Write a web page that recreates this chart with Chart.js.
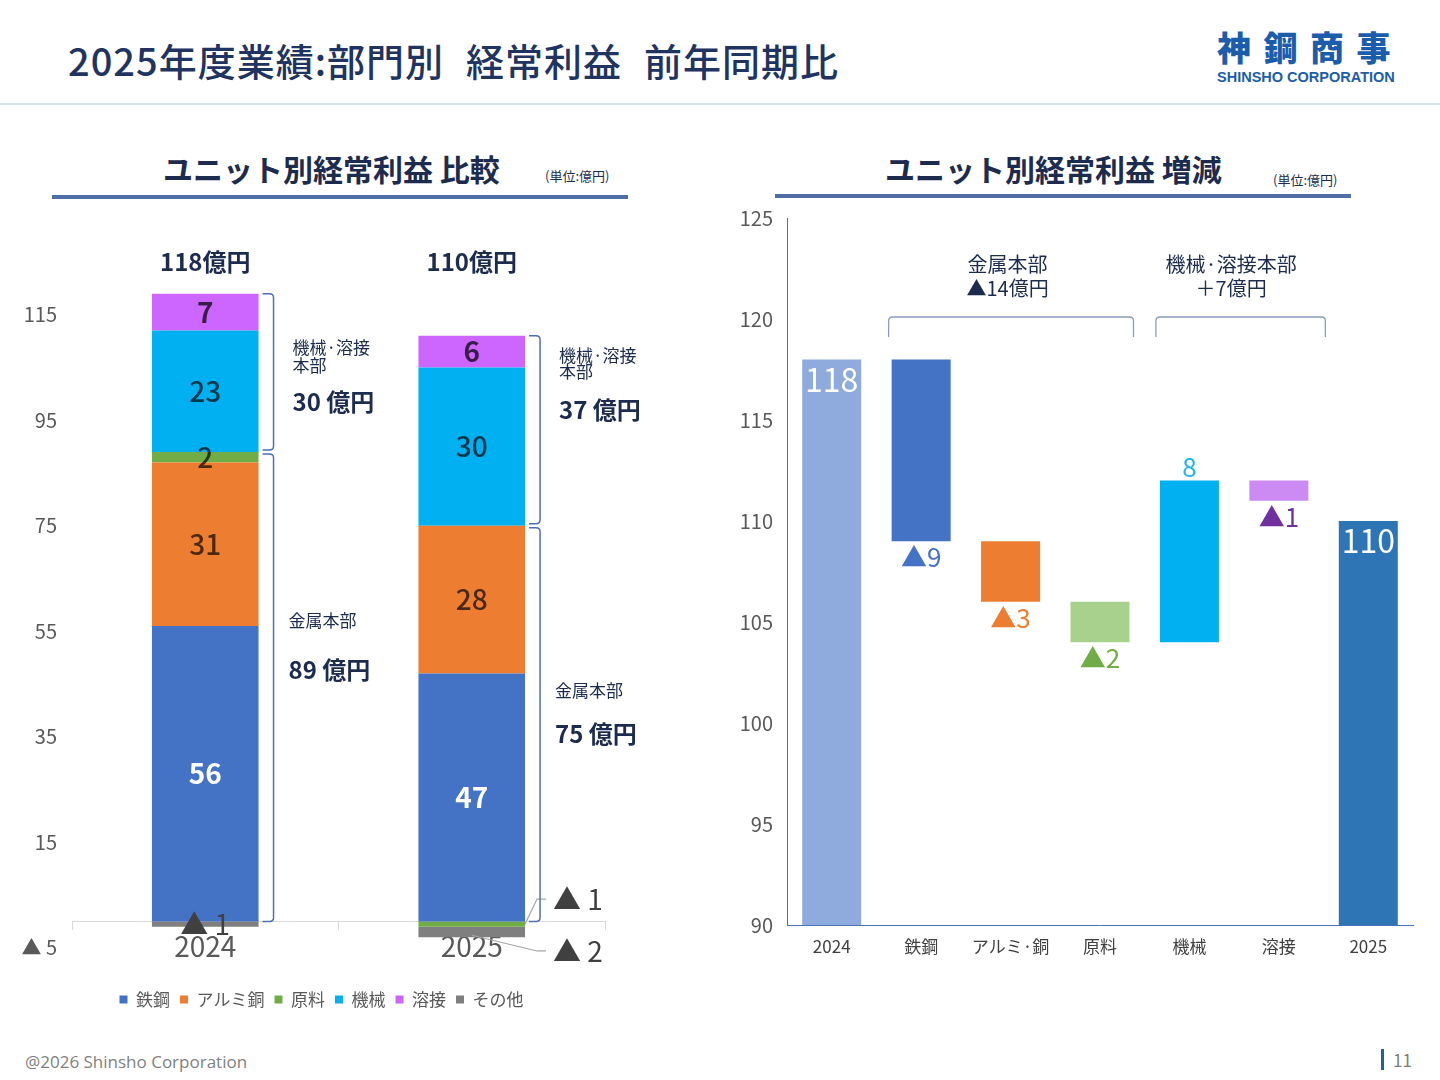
<!DOCTYPE html>
<html lang="ja">
<head>
<meta charset="utf-8">
<script src="https://cdn.jsdelivr.net/npm/chart.js@4.4.1/dist/chart.umd.min.js"></script>
<style>
  body { margin:0; width:1440px; height:1080px; background:#fff; position:relative; overflow:hidden;
         font-family:"Noto Sans CJK JP","Noto Sans",sans-serif; }
  .abs { position:absolute; white-space:nowrap; }
  #pageTitle { left:68px; top:38px; font-size:38px; line-height:44px; color:#1f3460; font-weight:500; letter-spacing:1px; }
  #pageTitle .gap { display:inline-block; width:22px; }
  #logo { left:1217px; top:27px; font-size:34px; line-height:40px; color:#1c5dab; font-weight:900; letter-spacing:12.5px; }
  #logoSub { left:1217px; top:69px; font-size:14.5px; line-height:16px; color:#1c5dab; font-weight:700;
             font-family:"Liberation Sans",Arial,sans-serif; }
  #headLine { left:0; top:103px; width:1440px; height:2px; background:#d3e2e5; }
  .secTitle { top:149px; font-size:30px; line-height:38px; color:#1c2b4e; font-weight:700; }
  .unit { font-size:13px; line-height:16px; color:#1c2b4e; }
  .secLine { height:4px; background:#4f6fa6; }
  #footer { left:25px; top:1051px; font-size:17px; line-height:22px; color:#7f7f7f; font-family:"Open Sans","Noto Sans",sans-serif; }
  #pageBar { left:1381px; top:1049px; width:3px; height:21px; background:#1f5fa8; }
  #pageNo { left:1393px; top:1049px; font-size:17px; line-height:22px; color:#7f7f7f; }
  canvas { position:absolute; }
</style>
</head>
<body>
<div class="abs" id="pageTitle">2025年度業績:部門別<span class="gap"></span>経常利益<span class="gap"></span>前年同期比</div>
<div class="abs" id="logo">神鋼商事</div>
<div class="abs" id="logoSub">SHINSHO CORPORATION</div>
<div class="abs" id="headLine"></div>

<div class="abs secTitle" style="left:163px;">ユニット別経常利益 比較</div>
<div class="abs unit" style="left:545px;top:168px;">(単位:億円)</div>
<div class="abs secLine" style="left:52px;top:195px;width:576px;"></div>

<div class="abs secTitle" style="left:885px;">ユニット別経常利益 増減</div>
<div class="abs unit" style="left:1273px;top:172px;">(単位:億円)</div>
<div class="abs secLine" style="left:775px;top:194px;width:576px;"></div>

<canvas id="compareChart" width="710" height="830" style="left:0;top:200px;"></canvas>
<canvas id="bridgeChart" width="720" height="778" style="left:720px;top:192px;"></canvas>

<div class="abs" id="footer">@2026 Shinsho Corporation</div>
<div class="abs" id="pageBar"></div>
<div class="abs" id="pageNo">11</div>

<script>
Chart.defaults.font.family = '"Noto Sans CJK JP", "Noto Sans", sans-serif';
Chart.defaults.color = "#595959";

// ---- left chart data (億円)
const years = ["2024", "2025"];
const units = ["鉄鋼", "アルミ銅", "原料", "機械", "溶接", "その他"];
const steel = [56, 47];
const aluCopper = [31, 28];
const rawMat = [2, -1];
const machinery = [23, 30];
const welding = [7, 6];
const others = [-1, -2];
const yearTotals = [118, 110];
const metalDiv = [89, 75];        // 金属本部
const machWeldDiv = [30, 37];     // 機械・溶接本部
const leftTicks = [-5, 15, 35, 55, 75, 95, 115];

// ---- right chart data
const bridgeLabels = ["2024", "鉄鋼", "アルミ·銅", "原料", "機械", "溶接", "2025"];
const startValue = 118;
const changes = [-9, -3, -2, 8, -1];
const endValue = 110;
const rightMin = 90, rightMax = 125;

const unitColors = ["#4472C4", "#ED7D31", "#70AD47", "#00B0F0", "#CC66FF", "#7F7F7F"];
const bridgeColors = ["#8FAADC", "#4472C4", "#ED7D31", "#A9D18E", "#00B0F0", "#CC8BF2", "#2E75B6"];
const bridgeTextColors = ["#fff", "#4472C4", "#ED7D31", "#70AD47", "#1FB5E8", "#7030A0", "#fff"];

const navy = "#1c2b4e";
const unitValues = [steel, aluCopper, rawMat, machinery, welding, others];

const drawBracket = (ctx, x0, x1, yTop, yBot, r) => {
  ctx.beginPath();
  ctx.moveTo(x0, yTop);
  ctx.lineTo(x1 - r, yTop);
  ctx.quadraticCurveTo(x1, yTop, x1, yTop + r);
  ctx.lineTo(x1, yBot - r);
  ctx.quadraticCurveTo(x1, yBot, x1 - r, yBot);
  ctx.lineTo(x0, yBot);
  ctx.stroke();
};

// labels, totals and brackets of the stacked chart
const stackLabels = {
  id: "stackLabels",
  afterDatasetsDraw(chart) {
    const ctx = chart.ctx;
    const yS = chart.scales.y;
    ctx.save();
    ctx.textAlign = "center";
    ctx.textBaseline = "middle";
    chart.data.datasets.forEach((ds, di) => {
      chart.getDatasetMeta(di).data.forEach((bar, i) => {
        const v = ds.data[i];
        const cy = (bar.y + bar.base) / 2;
        const right = bar.x + bar.width / 2;
        if (v < 0) {
          ctx.font = "400 28px 'Noto Sans CJK JP'";
          ctx.fillStyle = "#404040";
          if (i === 0) {
            ctx.fillText("▲ " + (-v), bar.x, cy);
          } else {
            const ly = di === 2 ? cy - 25 : cy + 19;
            ctx.strokeStyle = "#a6a6a6";
            ctx.lineWidth = 1.2;
            ctx.beginPath();
            if (di === 2) ctx.moveTo(right, cy);
            else ctx.moveTo(bar.x, Math.max(bar.y, bar.base) - 2);
            ctx.lineTo(right + 12, ly);
            ctx.lineTo(right + 21, ly);
            ctx.stroke();
            ctx.textAlign = "left";
            ctx.fillText("▲ " + (-v), right + 28, ly);
            ctx.textAlign = "center";
          }
          return;
        }
        if (di === 0) { ctx.font = "700 28px 'Noto Sans CJK JP'"; ctx.fillStyle = "#fff"; }
        else if (di === 4) { ctx.font = "700 28px 'Noto Sans CJK JP'"; ctx.fillStyle = "rgba(0,0,0,0.72)"; }
        else { ctx.font = "500 28px 'Noto Sans CJK JP'"; ctx.fillStyle = "rgba(0,0,0,0.68)"; }
        ctx.fillText(String(v), bar.x, cy);
      });
    });

    const meta0 = chart.getDatasetMeta(0);
    const textSpots = [
      { mw: [108.8, 105.4, 98.5], mt: [57.0, 47.7] },
      { mw: [107.2, 104.2, 97.0], mt: [43.7, 35.6] }
    ];
    meta0.data.forEach((bar, i) => {
      const right = bar.x + bar.width / 2;
      // totals above
      ctx.textAlign = "center";
      ctx.font = "700 24px 'Noto Sans CJK JP'";
      ctx.fillStyle = navy;
      ctx.fillText(yearTotals[i] + "億円", bar.x, chart.chartArea.top);

      // brackets
      const metalTop = steel[i] + aluCopper[i] + Math.max(rawMat[i], 0);
      const allTop = metalTop + machinery[i] + welding[i];
      ctx.strokeStyle = "#4a6fb5";
      ctx.lineWidth = 1.5;
      drawBracket(ctx, right + 4, right + 15, yS.getPixelForValue(allTop), yS.getPixelForValue(metalTop) - 2, 4);
      drawBracket(ctx, right + 4, right + 15, yS.getPixelForValue(metalTop) + 2, yS.getPixelForValue(0), 4);

      // division texts
      const sp = textSpots[i];
      ctx.textAlign = "left";
      ctx.fillStyle = navy;
      ctx.font = "400 17px 'Noto Sans CJK JP'";
      ctx.fillText("機械·溶接", right + 34, yS.getPixelForValue(sp.mw[0]));
      ctx.fillText("本部", right + 34, yS.getPixelForValue(sp.mw[1]));
      ctx.fillText("金属本部", right + 30, yS.getPixelForValue(sp.mt[0]));
      ctx.font = "700 24px 'Noto Sans CJK JP'";
      ctx.fillText(machWeldDiv[i] + " 億円", right + 34, yS.getPixelForValue(sp.mw[2]));
      ctx.fillText(metalDiv[i] + " 億円", right + 30, yS.getPixelForValue(sp.mt[1]));
    });
    ctx.restore();
  }
};

new Chart(document.getElementById("compareChart"), {
  type: "bar",
  data: {
    labels: years,
    datasets: units.map((u, k) => ({
      label: u,
      data: unitValues[k],
      backgroundColor: unitColors[k],
      borderWidth: 0,
      barPercentage: 0.4,
      categoryPercentage: 1
    }))
  },
  options: {
    responsive: false,
    animation: false,
    layout: { padding: { left: 38, right: 105, top: 62, bottom: 12 } },
    plugins: {
      tooltip: { enabled: false },
      legend: {
        position: "bottom",
        // empty title only pushes the legend row down below the year labels
        title: { display: true, text: " ", font: { size: 1 }, padding: { top: 32, bottom: 0 } },
        labels: { boxWidth: 8, boxHeight: 8, padding: 10, color: "#595959", font: { size: 17 } }
      }
    },
    scales: {
      x: {
        stacked: true,
        position: { y: 0 },
        grid: { display: true, drawOnChartArea: false, drawTicks: true, tickLength: 8, color: "#d9d9d9" },
        border: { display: true, color: "#d9d9d9" },
        ticks: { font: { size: 28 }, color: "#595959", padding: 0 }
      },
      y: {
        stacked: true,
        min: -5,
        max: 125,
        grid: { display: false, drawTicks: false },
        border: { display: false },
        ticks: { font: { size: 20 }, color: "#595959", padding: 15,
                 callback: v => v < 0 ? "▲ " + (-v) : v },
        afterBuildTicks: s => { s.ticks = leftTicks.map(v => ({ value: v })); },
        afterFit: s => {
          s.width = 34;
          s._computeLabelArea = () => undefined; // let the labels run past the narrow box
        }
      }
    }
  },
  plugins: [stackLabels]
});

// ---- waterfall
const floating = [[rightMin, startValue]];
let level = startValue;
changes.forEach(c => { floating.push([level, level + c]); level += c; });
floating.push([rightMin, endValue]);

const groups = [
  { from: 1, to: 3, title: "金属本部", padL: 3, padR: 4 },
  { from: 4, to: 5, title: "機械·溶接本部", padL: 4, padR: 17 }
];

const bridgeLabelsPlugin = {
  id: "bridgeLabels",
  afterDatasetsDraw(chart) {
    const ctx = chart.ctx;
    const yS = chart.scales.y;
    const bars = chart.getDatasetMeta(0).data;
    ctx.save();
    ctx.textAlign = "center";
    ctx.textBaseline = "middle";
    bars.forEach((bar, i) => {
      const top = Math.min(bar.y, bar.base);
      const bottom = Math.max(bar.y, bar.base);
      ctx.fillStyle = bridgeTextColors[i];
      if (i === 0 || i === bars.length - 1) {
        ctx.font = "400 32px 'Noto Sans CJK JP'";
        ctx.fillText(String(i === 0 ? startValue : endValue), bar.x, top + 20);
      } else {
        const c = changes[i - 1];
        ctx.font = "400 26px 'Noto Sans CJK JP'";
        if (c < 0) ctx.fillText("▲" + (-c), bar.x, bottom + 16);
        else ctx.fillText(String(c), bar.x, top - 13);
      }
    });

    groups.forEach(g => {
      const a = bars[g.from], b = bars[g.to];
      const x0 = a.x - a.width / 2 - g.padL;
      const x1 = b.x + b.width / 2 + g.padR;
      const yl = yS.getPixelForValue(120.1);
      ctx.strokeStyle = "#8a9cba";
      ctx.lineWidth = 1.3;
      ctx.beginPath();
      ctx.moveTo(x0, yl + 20);
      ctx.lineTo(x0, yl + 4);
      ctx.quadraticCurveTo(x0, yl, x0 + 4, yl);
      ctx.lineTo(x1 - 4, yl);
      ctx.quadraticCurveTo(x1, yl, x1, yl + 4);
      ctx.lineTo(x1, yl + 20);
      ctx.stroke();
      const sum = changes.slice(g.from - 1, g.to).reduce((s, v) => s + v, 0);
      ctx.fillStyle = navy;
      ctx.font = "400 20px 'Noto Sans CJK JP'";
      const cx = (a.x + b.x) / 2 - 3;
      ctx.fillText(g.title, cx, yS.getPixelForValue(122.7));
      ctx.fillText((sum < 0 ? "▲" + (-sum) : "＋" + sum) + "億円", cx, yS.getPixelForValue(121.5));
    });
    ctx.restore();
  }
};

new Chart(document.getElementById("bridgeChart"), {
  type: "bar",
  data: {
    labels: bridgeLabels,
    datasets: [{
      data: floating,
      backgroundColor: bridgeColors,
      borderWidth: 0,
      barPercentage: 0.66,
      categoryPercentage: 1
    }]
  },
  options: {
    responsive: false,
    animation: false,
    layout: { padding: { left: 0, right: 27, top: 19, bottom: 10 } },
    plugins: { legend: { display: false }, tooltip: { enabled: false } },
    scales: {
      x: {
        grid: { display: false, drawTicks: false },
        border: { display: true, color: "#4a72b8", width: 1 },
        ticks: { font: { size: 17 }, color: "#404040", padding: 11 },
        afterFit: s => { s.height = 35; }
      },
      y: {
        min: rightMin,
        max: rightMax,
        grid: { display: false, drawTicks: false },
        border: { display: true, color: "#4a72b8", width: 1 },
        ticks: { stepSize: 5, font: { size: 20 }, color: "#595959", padding: 14 },
        afterFit: s => { s.width = 67; }
      }
    }
  },
  plugins: [bridgeLabelsPlugin]
});
</script>
</body>
</html>
